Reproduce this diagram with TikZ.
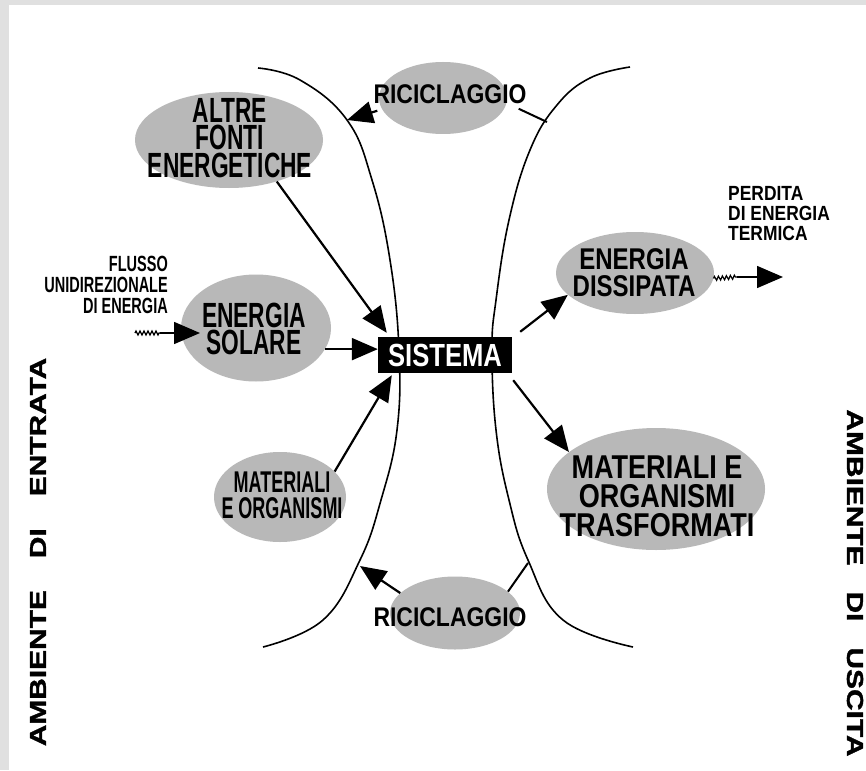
\documentclass[tikz,border=0pt]{standalone}
\usepackage{fontspec}
\setmainfont{Liberation Sans}
\newfontfamily\fA[FakeStretch=0.65]{Liberation Sans Bold}
\newfontfamily\fE[FakeStretch=0.6]{Liberation Sans Bold}
\newfontfamily\fB[FakeStretch=0.8]{Liberation Sans Bold}
\newfontfamily\fT[FakeStretch=0.82]{Liberation Sans Bold}
\newfontfamily\fC[FakeStretch=0.85]{Liberation Sans Bold}
\newfontfamily\fD[FakeStretch=0.66]{Liberation Sans Bold}
\newfontfamily\fW[FakeStretch=1.3,FakeBold=1.5]{Liberation Sans Bold}
\usetikzlibrary{arrows.meta,shapes.geometric,decorations.pathmorphing,calc}
\begin{document}
\begin{tikzpicture}[x=1pt,y=-1pt,
  blob/.style={ellipse, fill=black!28, draw=none, inner sep=0pt},
  arr/.style={line width=2.2pt, -{Triangle[length=26pt,width=22pt]}},
  arrthin/.style={line width=1.5pt, -{Triangle[length=26pt,width=22pt]}},
  bound/.style={line width=1.6pt},
  wavy/.style={line width=1.2pt, decorate, decoration={zigzag, amplitude=2pt, segment length=4pt}},
  tA/.style={font=\fA\fontsize{35}{27.5}\selectfont, inner sep=0pt, align=center},
  tM/.style={font=\fE\fontsize{30}{26}\selectfont, inner sep=0pt, align=center},
  tB/.style={font=\fB\fontsize{30}{27}\selectfont, inner sep=0pt, align=center},
  tT/.style={font=\fT\fontsize{33}{29}\selectfont, inner sep=0pt, align=center},
  tR/.style={font=\fC\fontsize{27}{27}\selectfont, inner sep=0pt},
  tS/.style={font=\fD\fontsize{22}{21}\selectfont, inner sep=0pt},
  tP/.style={font=\fC\fontsize{20.5}{20}\selectfont, inner sep=0pt},
  tW/.style={font=\fW\fontsize{23}{23}\selectfont, inner sep=0pt},
  sysbox/.style={rectangle, fill=black, text=white, minimum width=134pt, minimum height=36pt, inner sep=0pt, font=\fB\fontsize{32}{32}\selectfont}
]
\useasboundingbox (0,0) rectangle (866,770);
\fill[white] (0,0) rectangle (866,770);
\fill[black!12] (0,0) rectangle (9,770);
\fill[black!12] (0,0) rectangle (866,5);

% boundary curves
\draw[bound] plot[smooth, tension=0.7] coordinates {(258,68) (300,80) (347,120) (372,180) (390,260) (399,350) (397,430) (381,500) (360,560) (323,620) (263,647)};
\draw[bound] plot[smooth, tension=0.7] coordinates {(630,67) (590,78) (557,105) (530,150) (509,220) (496,300) (492,350) (496,430) (509,500) (528,560) (563,620) (633,647)};
\coordinate (lcTop) at (347,120);
\coordinate (rcTop) at (547,122);
\coordinate (lcBot) at (360,566);
\coordinate (rcBot) at (528,563);

% blobs
\node[blob, minimum width=188pt, minimum height=96pt] (altre) at (229,140) {};
\node[blob, minimum width=128pt, minimum height=72pt] (ricT) at (443,98) {};
\node[blob, minimum width=150pt, minimum height=107pt] (solare) at (256,328) {};
\node[blob, minimum width=132pt, minimum height=90pt] (matL) at (280,497) {};
\node[blob, minimum width=158pt, minimum height=82pt] (dissip) at (635,273) {};
\node[blob, minimum width=218pt, minimum height=122pt] (trasf) at (656,489) {};
\node[blob, minimum width=130pt, minimum height=73pt] (ricB) at (455,613) {};

% texts
\node[tA] (altreT) at (230,138) {ALTRE\\FONTI\\ENERGETICHE};
\node[tR] (ricTT) at (450,94) {RICICLAGGIO};
\node[tA] (solareT) at (254,329) {ENERGIA\\SOLARE};
\node[tM] (matLT) at (282,495) {MATERIALI\\E ORGANISMI};
\node[tB] (dissipT) at (634,273) {ENERGIA\\DISSIPATA};
\node[tT] (trasfT) at (657,496) {MATERIALI E\\ORGANISMI\\TRASFORMATI};
\node[tR] (ricBT) at (450,617) {RICICLAGGIO};
\node[sysbox] (sistema) at (445,355) {SISTEMA};
\node[tS, anchor=east, align=right] (flusso) at (168,285) {FLUSSO\\UNIDIREZIONALE\\DI ENERGIA};
\node[tP, anchor=west, align=left] (perdita) at (728,214) {PERDITA\\DI ENERGIA\\TERMICA};
\node[tW, rotate=90] (entrata) at (38,552) {AMBIENTE\hspace{32pt}DI\hspace{32pt}ENTRATA};
\node[tW, rotate=-90] (uscita) at (855,583) {AMBIENTE\hspace{26pt}DI\hspace{26pt}USCITA};

% input flow
\coordinate (flussoStart) at (135,333);
\coordinate (flussoMid) at (160,333);
\coordinate (solareIn) at (200,333);
\draw[wavy] (flussoStart) -- (flussoMid);
\draw[arrthin] (flussoMid) -- (solareIn);

% connectors to system
\draw[arr] (altre.-41) -- ([xshift=9pt,yshift=4pt]sistema.north west);
\draw[arr] (solare.-17) -- (solare.-17 -| sistema.west);
\draw[arr] (matL.25) -- ([xshift=14pt,yshift=-2pt]sistema.south west);
\draw[arr] ([xshift=8pt,yshift=5pt]sistema.north east) -- (dissip.198);
\draw[arr] ([xshift=1pt,yshift=-7pt]sistema.south east) -- (trasf.157);

% heat loss
\coordinate (heatMid) at (737,277);
\coordinate (heatOut) at (783,277);
\draw[wavy] (dissip.-4) -- (heatMid);
\draw[arrthin] (heatMid) -- (heatOut);

% recycling
\draw[line width=2pt] (rcTop) -- ([xshift=-8pt,yshift=-5pt]ricTT.south east);
\draw[arr] ([xshift=4pt,yshift=-7pt]ricTT.south west) -- (lcTop);
\draw[line width=2pt] (rcBot) -- (ricB.22);
\draw[arr] (ricB.160) -- (lcBot);
\end{tikzpicture}
\end{document}
